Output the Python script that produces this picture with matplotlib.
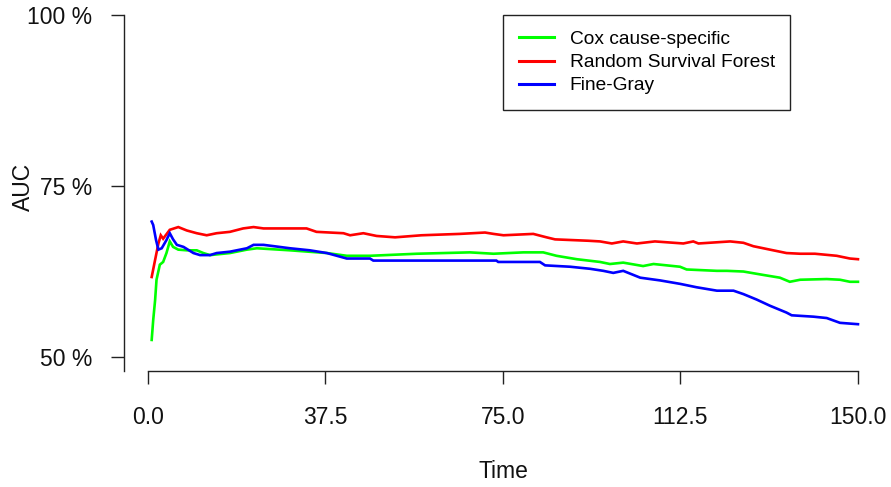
import matplotlib
matplotlib.use("Agg")
import matplotlib.pyplot as plt

plt.rcParams['font.family'] = ['Liberation Sans', 'DejaVu Sans']

# ---- data ----
t_cox = [0.78, 1.1, 1.5, 1.8, 2.5, 3.2, 3.9, 4.6, 5.3, 6.4, 8.2, 10.3, 11.7, 13.1, 17.3, 20.9,
         23.0, 30.0, 37.8, 42.0, 46.9, 56.8, 68.0, 73.0, 79.3, 83.5, 86.3, 90.6, 95.5, 97.6,
         100.4, 104.6, 106.8, 112.4, 113.8, 120.2, 122.3, 125.8, 130.0, 133.5, 135.6, 137.8,
         143.4, 146.2, 148.3, 150.0]
auc_cox = [0.525, 0.554, 0.583, 0.613, 0.635, 0.639, 0.652, 0.669, 0.661, 0.657, 0.656, 0.656,
           0.652, 0.649, 0.652, 0.657, 0.659, 0.656, 0.652, 0.648, 0.648, 0.651, 0.653, 0.651,
           0.653, 0.653, 0.648, 0.643, 0.639, 0.636, 0.638, 0.633, 0.636, 0.632, 0.628, 0.626,
           0.626, 0.625, 0.620, 0.616, 0.610, 0.613, 0.614, 0.613, 0.610, 0.610]

t_rsf = [0.78, 1.5, 2.2, 2.7, 3.2, 4.6, 6.4, 8.2, 10.3, 12.4, 14.5, 17.3, 20.1, 22.3, 24.4,
         33.5, 35.6, 41.3, 42.7, 45.5, 48.3, 52.2, 57.8, 65.9, 71.2, 73.0, 75.1, 81.4, 84.2,
         86.0, 93.0, 95.5, 98.0, 100.4, 103.3, 107.1, 113.1, 115.2, 116.3, 123.0, 125.8, 127.9,
         131.4, 134.9, 137.8, 140.9, 145.5, 148.3, 150.0]
auc_rsf = [0.617, 0.642, 0.666, 0.678, 0.673, 0.686, 0.690, 0.685, 0.681, 0.678, 0.681, 0.683,
           0.688, 0.690, 0.688, 0.688, 0.683, 0.681, 0.678, 0.681, 0.677, 0.675, 0.678, 0.680,
           0.682, 0.680, 0.678, 0.680, 0.675, 0.672, 0.670, 0.669, 0.666, 0.669, 0.666, 0.669,
           0.666, 0.669, 0.666, 0.669, 0.667, 0.662, 0.657, 0.652, 0.651, 0.651, 0.648, 0.644,
           0.643]

t_fg = [0.78, 1.1, 1.7, 2.2, 2.9, 3.9, 4.6, 5.3, 6.1, 7.5, 9.6, 11.0, 13.1, 14.5, 17.3, 20.9,
        22.3, 24.4, 30.0, 34.2, 37.8, 42.0, 46.9, 47.6, 73.6, 74.0, 82.8, 83.9, 89.2, 93.4,
        96.2, 98.3, 100.4, 104.0, 108.2, 112.4, 115.9, 120.2, 123.7, 125.8, 128.6, 131.4,
        134.9, 136.0, 140.6, 143.4, 146.2, 150.0]
auc_fg = [0.698, 0.693, 0.671, 0.657, 0.659, 0.671, 0.681, 0.672, 0.664, 0.661, 0.652, 0.649,
          0.649, 0.652, 0.654, 0.659, 0.664, 0.664, 0.659, 0.656, 0.652, 0.644, 0.644, 0.641,
          0.641, 0.639, 0.639, 0.634, 0.632, 0.629, 0.626, 0.623, 0.626, 0.616, 0.612, 0.607,
          0.602, 0.597, 0.597, 0.592, 0.584, 0.575, 0.565, 0.561, 0.559, 0.557, 0.550, 0.548]

series_names = ["Cox cause-specific", "Random Survival Forest", "Fine-Gray"]
series_colors = ["#00FF00", "#FF0000", "#0000FF"]

x_ticks = [0, 37.5, 75, 112.5, 150]
x_ticklabels = ["0.0", "37.5", "75.0", "112.5", "150.0"]
y_ticks = [0.5, 0.75, 1.0]
y_ticklabels = ["50 %", "75 %", "100 %"]

# ---- figure ----
W, H = 891, 487
fig = plt.figure(figsize=(W / 100, H / 100), dpi=100)
left, right, top, bottom = 124, 862.7, 15, 371.4
ax = fig.add_axes([left / W, 1 - bottom / H, (right - left) / W, (bottom - top) / H])

handles = []
for (tt, aa), name, col in zip([(t_cox, auc_cox), (t_rsf, auc_rsf), (t_fg, auc_fg)],
                               series_names, series_colors):
    h, = ax.plot(tt, aa, color=col, lw=1.9, label=name, solid_joinstyle='miter')
    handles.append(h)

ax.set_xlim(-5.07, 151)
ax.set_ylim(0.479, 1.0)

for s in ['top', 'right']:
    ax.spines[s].set_visible(False)
for s in ['left', 'bottom']:
    ax.spines[s].set_linewidth(1.0)
    ax.spines[s].set_color('#222222')
ax.spines['bottom'].set_bounds(0, 150)

ax.set_xticks(x_ticks)
ax.set_xticklabels(x_ticklabels)
ax.set_yticks(y_ticks)
ax.set_yticklabels(y_ticklabels)
ax.tick_params(axis='both', length=9.7, width=1.0, color='#222222', labelsize=16.5,
               labelcolor='#111111')
ax.tick_params(axis='x', pad=15)
ax.tick_params(axis='y', pad=13)

fig.text(503.5 / W, 1 - 472 / H, "Time", ha='center', va='center', fontsize=16.5,
         color='#111111')
fig.text(23 / W, 1 - 187 / H, "AUC", ha='center', va='center', rotation=90,
         fontsize=16.5, color='#111111')

leg = ax.legend(handles=handles, loc='upper left', bbox_to_anchor=(503 / W, 1 - 15 / H),
                bbox_transform=fig.transFigure, borderaxespad=0, fontsize=13.8,
                frameon=True, fancybox=False, edgecolor='#222222', framealpha=1,
                handlelength=1.85, handletextpad=0.8, borderpad=0.82, labelspacing=0.3)
leg.get_frame().set_linewidth(1.0)
for line in leg.get_lines():
    line.set_linewidth(2.2)

fig.savefig("out.png", dpi=100)
